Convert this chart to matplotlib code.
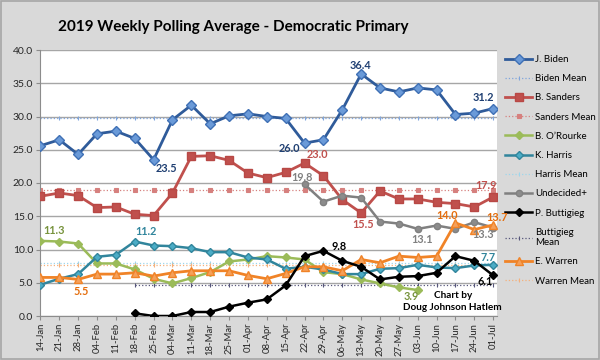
import matplotlib
matplotlib.use("Agg")
import matplotlib.pyplot as plt
import numpy as np

dates = ["14-Jan", "21-Jan", "28-Jan", "04-Feb", "11-Feb", "18-Feb", "25-Feb",
         "04-Mar", "11-Mar", "18-Mar", "25-Mar", "01-Apr", "08-Apr", "15-Apr",
         "22-Apr", "29-Apr", "06-May", "13-May", "20-May", "27-May", "03-Jun",
         "10-Jun", "17-Jun", "24-Jun", "01-Jul"]

biden = [25.6, 26.5, 24.3, 27.4, 27.8, 26.7, 23.5, 29.5, 31.7, 28.9, 30.1, 30.4,
         30.0, 29.7, 26.0, 26.5, 31.0, 36.4, 34.3, 33.7, 34.3, 34.0, 30.3, 30.5, 31.2]
sanders = [18.0, 18.5, 18.1, 16.3, 16.4, 15.3, 15.1, 18.5, 24.0, 24.1, 23.4, 21.5,
           20.8, 21.6, 23.0, 21.1, 17.5, 15.5, 18.8, 17.6, 17.6, 17.1, 16.9, 16.4, 17.9]
orourke = [11.3, 11.2, 10.9, 7.9, 7.9, 7.0, 5.6, 4.9, 5.7, 6.6, 8.2, 8.5,
           9.0, 8.8, 8.5, 6.6, 6.3, 5.5, 4.9, 4.3, 3.9] + [None] * 4
harris = [4.7, 5.6, 6.3, 8.9, 9.2, 11.2, 10.6, 10.5, 10.2, 9.6, 9.6, 8.8,
          8.5, 7.1, 7.4, 7.0, 6.3, 6.3, 7.1, 7.2, 7.7, 7.3, 7.2, 7.6, 7.7]
undecided = [None] * 14 + [19.8, 17.2, 18.1, 17.8, 14.2, 13.9, 13.1, 13.6, 13.1, 14.1, 13.3]
buttigieg = [None] * 5 + [0.4, 0.0, 0.0, 0.6, 0.6, 1.4, 2.0, 2.5, 4.6, 9.0, 9.8,
                          8.3, 7.4, 5.5, 5.9, 6.0, 6.5, 9.0, 8.3, 6.1]
warren = [5.8, 5.8, 5.5, 6.3, 6.3, 6.5, 6.0, 6.5, 6.8, 6.8, 6.8, 6.1,
          5.6, 6.4, 7.4, 7.4, 6.8, 8.5, 8.0, 9.0, 8.8, 9.0, 14.0, 13.0, 13.7]

biden_mean = 29.7
sanders_mean = 18.9
harris_mean = 7.9
buttigieg_mean = 4.7
warren_mean = 7.6
buttigieg_start = 5

def arr(v):
    return np.array([np.nan if x is None else x for x in v], dtype=float)

x = np.arange(len(dates))

fig = plt.figure(figsize=(6, 3.6), dpi=100, facecolor="#d9d9d9")
fig.patches.append(plt.Rectangle((0.002, 0.003), 0.996, 0.994, transform=fig.transFigure,
                                 fill=False, edgecolor="#a6a6a6", linewidth=1.2))
ax = fig.add_axes([40 / 600, 44 / 360, 457 / 600, 266 / 360])
ax.set_facecolor("white")

FONT = "Lato"

ax.set_ylim(0, 40)
ax.set_xlim(-0.02, 24.2)
ax.set_yticks(np.arange(0, 41, 5))
ax.set_yticklabels([f"{v:.1f}" for v in np.arange(0, 41, 5)], fontsize=7.5, family=FONT, color="#262626")
ax.yaxis.grid(True, color="#a6a6a6", linewidth=1.0)
ax.set_axisbelow(True)
ax.set_xticks(x)
ax.set_xticklabels(dates, rotation=90, fontsize=6.8, family=FONT, color="#262626")
for s in ["top", "right"]:
    ax.spines[s].set_visible(False)
for s in ["left", "bottom"]:
    ax.spines[s].set_color("#8c8c8c")
ax.tick_params(axis="both", color="#8c8c8c", length=3, pad=2)

def mean_line(val, start, color, marker, label):
    xs = x[start:]
    ax.plot(xs, [val] * len(xs), linestyle=":", color=color, linewidth=0.9,
            marker=marker, markersize=2.2, markeredgewidth=0.8, label=label, zorder=2)

ax.plot(x, arr(biden), color="#2f5b9a", linewidth=2, marker="D", markersize=4.8,
        markerfacecolor="#6a9ad8", markeredgecolor="#3f70b5", label="J. Biden", zorder=5)
mean_line(biden_mean, 0, "#7fa5dc", "|", "Biden Mean")
ax.plot(x, arr(sanders), color="#c0504d", linewidth=2, marker="s", markersize=5.5,
        markerfacecolor="#c0504d", markeredgecolor="#b84845", label="B. Sanders", zorder=5)
mean_line(sanders_mean, 0, "#d6807e", "s", "Sanders Mean")
ax.plot(x, arr(orourke), color="#9bbb59", linewidth=1.8, marker="D", markersize=3.6,
        markerfacecolor="#9bbb59", markeredgecolor="#9bbb59", label="B. O\u2019Rourke", zorder=5)
ax.plot(x, arr(harris), color="#31859c", linewidth=1.8, marker="D", markersize=3.6,
        markerfacecolor="#4bacc6", markeredgecolor="#31859c", label="K. Harris", zorder=5)
mean_line(harris_mean, 0, "#9dd6ec", "|", "Harris Mean")
ax.plot(x, arr(undecided), color="#808080", linewidth=1.8, marker="o", markersize=4.5,
        markerfacecolor="#8c8c8c", markeredgecolor="#808080", label="Undecided+", zorder=5)
ax.plot(x, arr(buttigieg), color="black", linewidth=1.8, marker="D", markersize=3.6,
        markerfacecolor="black", label="P. Buttigieg", zorder=6)
mean_line(buttigieg_mean, buttigieg_start, "#55557a", "|", "Buttigieg\nMean")
ax.plot(x, arr(warren), color="#f08327", linewidth=2, marker="^", markersize=5.5,
        markerfacecolor="#f5a05a", markeredgecolor="#f08327", label="E. Warren", zorder=5)
mean_line(warren_mean, 0, "#f5b07a", "|", "Warren Mean")

labels = [
    (biden, 6, "23.5", 13, -9, "#1f3f72"),
    (biden, 14, "26.0", -15, -5, "#1f3f72"),
    (biden, 17, "36.4", -1, 8, "#1f3f72"),
    (biden, 24, "31.2", -10, 11, "#1f3f72"),
    (sanders, 14, "23.0", 13, 9, "#c0504d"),
    (sanders, 17, "15.5", 2, -12, "#c0504d"),
    (sanders, 24, "17.9", -7, 11, "#c0504d"),
    (undecided, 14, "19.8", -3, 7, "#808080"),
    (undecided, 20, "13.1", 4, -11, "#808080"),
    (undecided, 24, "13.3", -10, -7, "#808080"),
    (warren, 2, "5.5", 3, -12, "#e46c0a"),
    (warren, 22, "14.0", -8, 7, "#e46c0a"),
    (warren, 24, "13.7", 4, 7, "#e46c0a"),
    (orourke, 0, "11.3", 14, 10, "#77933c"),
    (orourke, 20, "3.9", -7, -6, "#77933c"),
    (harris, 5, "11.2", 11, 10, "#31859c"),
    (harris, 24, "7.7", -5, 7, "#31859c"),
    (buttigieg, 15, "9.8", 16, 4, "black"),
    (buttigieg, 24, "6.1", -8, -6, "black"),
]
for series, i, txt, dx, dy, col in labels:
    ax.annotate(txt, xy=(x[i], series[i]), xytext=(dx, dy), textcoords="offset pixels",
                ha="center", va="center", fontsize=7.8, fontweight="bold", family=FONT,
                color=col, zorder=8, annotation_clip=False)

ax.text(21.85, 3.1, "Chart by", ha="center", va="center",
        fontsize=7.2, fontweight="bold", family=FONT, color="black", zorder=8)
ax.text(21.85, 1.3, "Doug Johnson Hatlem", ha="center", va="center",
        fontsize=7.2, fontweight="bold", family=FONT, color="black", zorder=8)

fig.text(233 / 600, 1 - 27 / 360, "2019 Weekly Polling Average - Democratic Primary",
         ha="center", va="center", fontsize=11, fontweight="bold", family=FONT, color="black")

ax.legend(loc="upper left", bbox_to_anchor=(505 / 600, 1 - 55 / 360),
          bbox_transform=fig.transFigure, frameon=False, prop={"family": FONT, "size": 7},
          handlelength=2.8, handletextpad=0.3, labelspacing=1.05, borderpad=0, borderaxespad=0)

fig.savefig("out.png", dpi=100, facecolor=fig.get_facecolor())
